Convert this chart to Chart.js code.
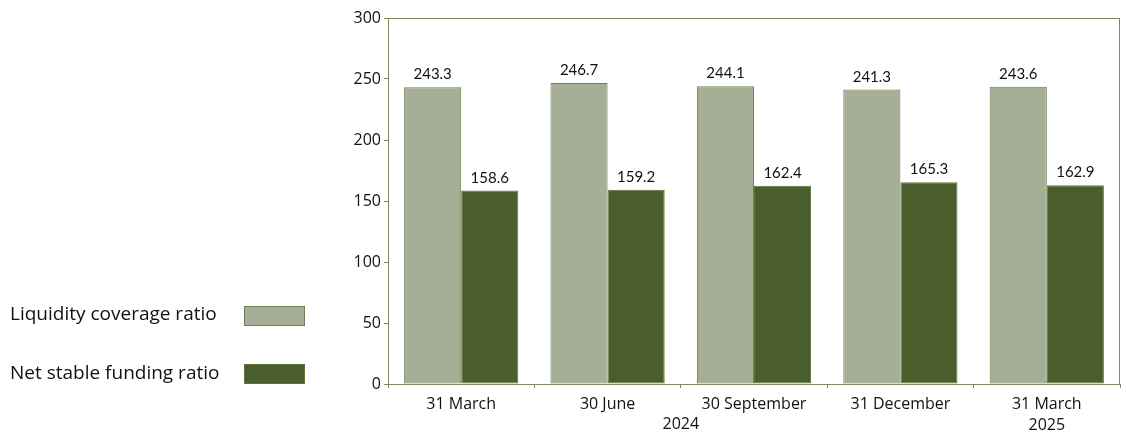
<!DOCTYPE html>
<html><head><meta charset="utf-8">
<script src="https://cdn.jsdelivr.net/npm/chart.js@4"></script>
<style>html,body{margin:0;padding:0;background:#fff}#wrap{width:1126px;height:432px;position:relative}</style>
</head><body><div id="wrap"><canvas id="c" width="1126" height="432"></canvas></div>
<script>
const categories = [["31 March"], ["30 June"], ["30 September"], ["31 December"], ["31 March", "2025"]];
const yearLabel = "2024";
const lcrValues = [243.3, 246.7, 244.1, 241.3, 243.6];
const nsfrValues = [158.6, 159.2, 162.4, 165.3, 162.9];
const seriesNames = ["Liquidity coverage ratio", "Net stable funding ratio"];
const yTicks = [0, 50, 100, 150, 200, 250, 300];

const FONT = "'Open Sans', 'Lato', sans-serif";
const frameColor = "#7d8c5c";

const extras = {
  id: 'extras',
  afterDatasetsDraw(chart) {
    const ctx = chart.ctx;
    ctx.save();
    ctx.font = "15px 'Lato', sans-serif";
    ctx.fillStyle = "#111";
    ctx.textAlign = "center";
    ctx.textBaseline = "alphabetic";
    chart.data.datasets.forEach((ds, i) => {
      chart.getDatasetMeta(i).data.forEach((bar, j) => {
        ctx.fillText(ds.data[j].toFixed(1), bar.x, bar.y - 8);
      });
    });
    const a = chart.chartArea;
    ctx.strokeStyle = frameColor;
    ctx.lineWidth = 1;
    ctx.strokeRect(a.left + 0.5, a.top + 0.5, a.right - a.left - 1, a.bottom - a.top);
    // year label under first four categories
    const xs = chart.scales.x;
    let s = 0;
    for (let k = 0; k < 4; k++) s += xs.getPixelForValue(k);
    ctx.font = "16px " + FONT;
    ctx.textBaseline = "middle";
    ctx.fillText(yearLabel, s / 4, 424);
    // legend on left
    const colors = chart.data.datasets.map(d => [d.backgroundColor, d.borderColor]);
    const rows = [320, 379];
    const boxes = [306, 364];
    ctx.textAlign = "left";
    ctx.textBaseline = "alphabetic";
    ctx.font = "19px " + FONT;
    seriesNames.forEach((n, i) => {
      ctx.fillStyle = "#111";
      ctx.fillText(n, 10, rows[i]);
      ctx.fillStyle = colors[i][0];
      ctx.fillRect(244, boxes[i], 61, 20);
      ctx.strokeStyle = colors[i][1];
      ctx.strokeRect(244.5, boxes[i] + 0.5, 60, 19);
    });
    ctx.restore();
  }
};

new Chart(document.getElementById('c'), {
  type: 'bar',
  data: {
    labels: categories,
    datasets: [
      { label: seriesNames[0], data: lcrValues, backgroundColor: "#a5af96", borderColor: "#6e7d4e", borderWidth: 1, borderSkipped: false },
      { label: seriesNames[1], data: nsfrValues, backgroundColor: "#4a5e2b", borderColor: "#5f7338", borderWidth: 1, borderSkipped: false }
    ]
  },
  options: {
    responsive: false,
    animation: false,
    layout: { padding: { top: 18, right: 6, left: 0, bottom: 0 } },
    plugins: { legend: { display: false }, tooltip: { enabled: false } },
    datasets: { bar: { categoryPercentage: 0.78, barPercentage: 1.0 } },
    scales: {
      x: {
        afterFit(s) { s.height = 48; },
        grid: { display: true, drawOnChartArea: false, offset: true, tickLength: 4, color: frameColor },
        border: { color: frameColor },
        ticks: { color: "#111", font: { family: FONT, size: 16, lineHeight: 1.3 }, padding: 6, maxRotation: 0 }
      },
      y: {
        min: 0, max: 300,
        afterFit(s) { s.width = 388; },
        afterBuildTicks(s) { s.ticks = yTicks.map(v => ({ value: v })); },
        grid: { display: true, drawOnChartArea: false, tickLength: 4, color: frameColor },
        border: { color: frameColor },
        ticks: { color: "#111", font: { family: FONT, size: 16 }, padding: 3 }
      }
    }
  },
  plugins: [extras]
});
</script></body></html>
